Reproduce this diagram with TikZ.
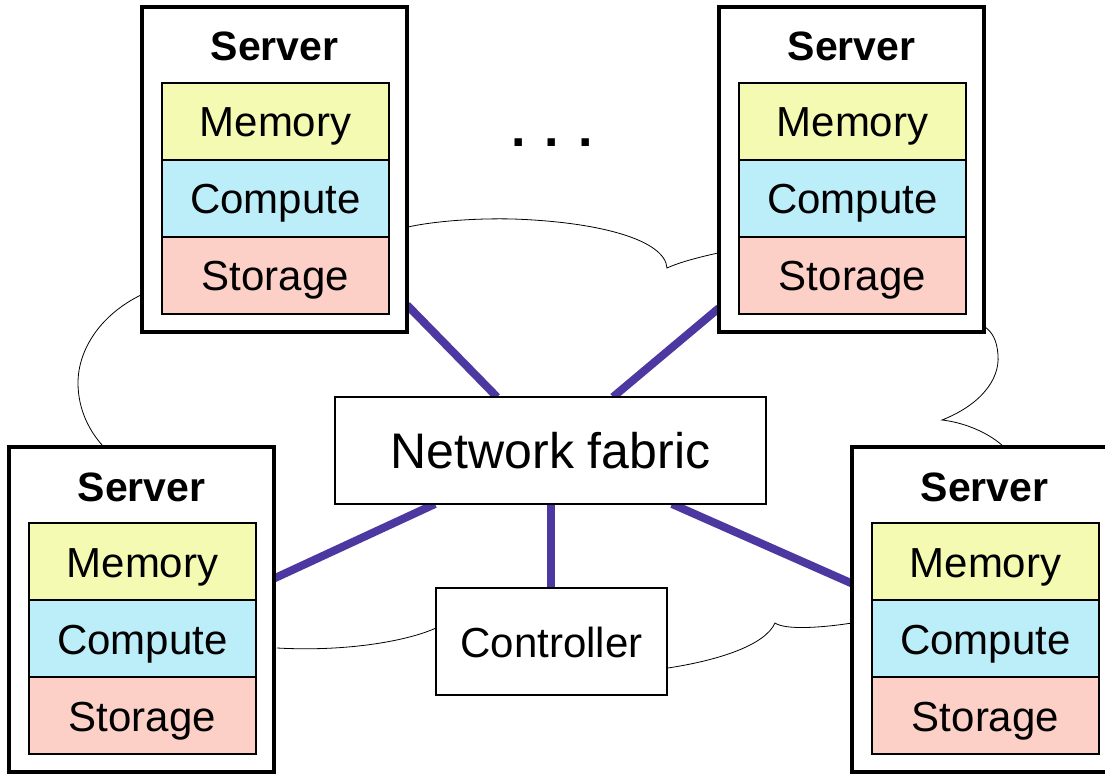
\documentclass[tikz,border=0pt]{standalone}
\usepackage{fontspec}
\setmainfont{Liberation Sans}
\usetikzlibrary{calc,backgrounds}

\definecolor{memfill}{RGB}{244,250,178}
\definecolor{cpufill}{RGB}{188,238,250}
\definecolor{stofill}{RGB}{252,207,199}
\definecolor{linkcol}{RGB}{76,56,160}

\tikzset{
  every node/.style={outer sep=0pt},
  outerbox/.style={draw, line width=3.8pt, fill=white, minimum width=265pt,
    minimum height=325pt, inner sep=0pt, anchor=north west},
  layer/.style={draw, line width=1.6pt, minimum width=227pt, text height=54pt,
    text depth=23pt, inner sep=0pt, anchor=north west,
    font=\fontsize{42}{42}\selectfont},
  srvtitle/.style={anchor=base, inner sep=0pt,
    font=\bfseries\fontsize{41}{41}\selectfont},
  plainbox/.style={draw, line width=1.6pt, fill=white, inner sep=0pt},
  link/.style={draw=linkcol, line width=8pt},
  cloudline/.style={draw, line width=0.8pt},
}

% one server: outer frame, title and the three stacked layers
\newcommand\serverblock[3]{%
  \node[outerbox] (#1) at (#2,#3) {};
  \node[srvtitle] (#1-t) at ($(#1.north)+(0,54)$) {Server};
  \node[layer, fill=memfill] (#1-m) at ($(#1.north west)+(20,76)$) {Memory};
  \node[layer, fill=cpufill] (#1-c) at (#1-m.south west) {Compute};
  \node[layer, fill=stofill] (#1-s) at (#1-c.south west) {Storage};
}

\begin{document}
\begin{tikzpicture}[x=1pt, y=-1pt]
  \useasboundingbox (0,0) rectangle (1105,775);
  \clip (0,0) rectangle (1105,775);

  % cloud outline behind everything
  \path[cloudline] (141,295) .. controls (100,315) and (78,350) .. (78,383)
        .. controls (78,410) and (90,432) .. (103,446);
  \path[cloudline] (277,648) .. controls (350,652) and (410,640) .. (436,628);
  \path[cloudline] (668,668) .. controls (720,660) and (765,645) .. (775,623)
        .. controls (785,630) and (820,628) .. (852,623);
  \path[cloudline] (1003,446) .. controls (985,430) and (960,422) .. (942,420)
        .. controls (980,405) and (1000,380) .. (998,355)
        .. controls (997,340) and (992,332) .. (985,327);
  \path[cloudline] (718,253) .. controls (700,257) and (680,262) .. (667,268)
        .. controls (665,240) and (600,222) .. (513,219)
        .. controls (470,218) and (430,222) .. (408,227);

  % central boxes
  \node[plainbox, minimum width=431pt, text height=71pt, text depth=36pt,
        font=\fontsize{50}{50}\selectfont] (fab) at (550.5,450.5) {Network fabric};
  \node[plainbox, minimum width=231pt, text height=69pt, text depth=38pt,
        font=\fontsize{42}{42}\selectfont] (ctl) at (551.5,641.5) {Controller};

  % servers
  \serverblock{tl}{142}{7}
  \serverblock{tr}{719}{7}
  \serverblock{bl}{9}{447}
  \serverblock{br}{852}{447}

  % links to the fabric, kept behind the boxes
  \begin{scope}[on background layer]
    \draw[link] ($(tl.south east)+(0,-27)$) -- ($(fab.north west)+(162,0)$);
    \draw[link] ($(tr.south west)+(0,-24)$) -- ($(fab.north west)+(278,0)$);
    \draw[link] ($(bl.east)+(0,-31)$) -- ($(fab.south west)+(100,0)$);
    \draw[link] ($(br.west)+(0,-26)$) -- ($(fab.south west)+(337,0)$);
    \draw[link] (fab.south) -- (fab.south |- ctl.north);
  \end{scope}

  % ellipsis between the top servers
  \node[anchor=base, inner sep=0pt, font=\bfseries\fontsize{52}{52}\selectfont]
        (dots) at (552,147) {. . .};
\end{tikzpicture}
\end{document}
